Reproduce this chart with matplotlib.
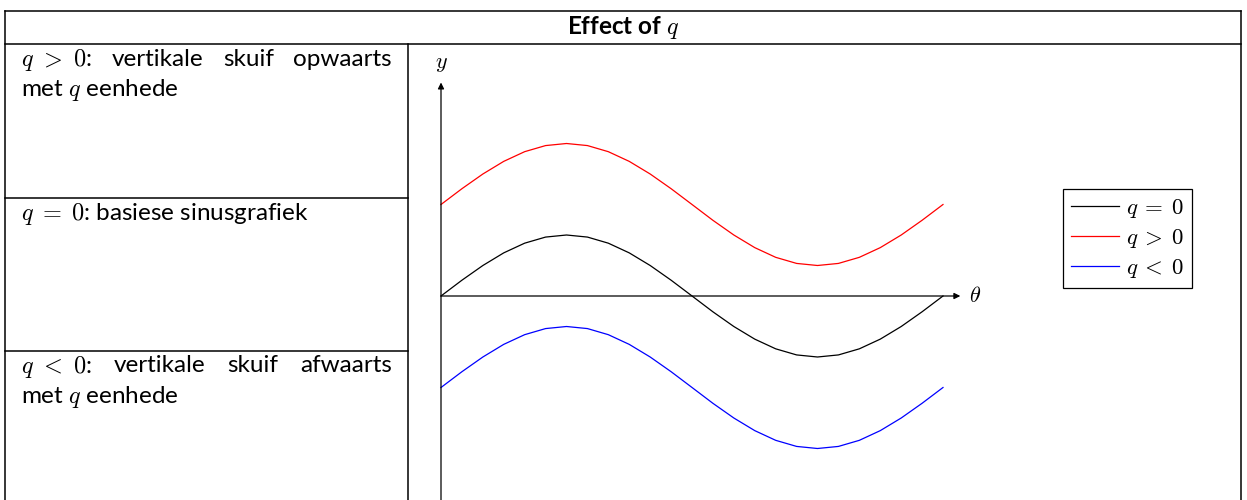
import matplotlib
matplotlib.use("Agg")
import matplotlib.pyplot as plt
from matplotlib.lines import Line2D

plt.rcParams['mathtext.fontset'] = 'cm'
plt.rcParams['font.family'] = ['Lato', 'DejaVu Sans']

# ---- data ----
title = r"Effect of $q$"
cell_texts = [
    [r"$q\ >\ 0$:", "vertikale", "skuif", "opwaarts"],
    [r"$q\;=\;0$: basiese sinusgrafiek"],
    [r"$q\ <\ 0$:", "vertikale", "skuif", "afwaarts"],
]
cell_second_lines = [r"met $q$ eenhede", None, r"met $q$ eenhede"]
theta = [0.000, 0.262, 0.524, 0.785, 1.047, 1.309, 1.571, 1.833, 2.094,
         2.356, 2.618, 2.880, 3.142, 3.403, 3.665, 3.927, 4.189, 4.451,
         4.712, 4.974, 5.236, 5.498, 5.760, 6.021, 6.283]
y_zero = [0.000, 0.259, 0.500, 0.707, 0.866, 0.966, 1.000, 0.966, 0.866,
          0.707, 0.500, 0.259, 0.000, -0.259, -0.500, -0.707, -0.866, -0.966,
          -1.000, -0.966, -0.866, -0.707, -0.500, -0.259, 0.000]
y_pos = [1.500, 1.759, 2.000, 2.207, 2.366, 2.466, 2.500, 2.466, 2.366,
         2.207, 2.000, 1.759, 1.500, 1.241, 1.000, 0.793, 0.634, 0.534,
         0.500, 0.534, 0.634, 0.793, 1.000, 1.241, 1.500]
y_neg = [-1.500, -1.241, -1.000, -0.793, -0.634, -0.534, -0.500, -0.534, -0.634,
         -0.793, -1.000, -1.241, -1.500, -1.759, -2.000, -2.207, -2.366, -2.466,
         -2.500, -2.466, -2.366, -2.207, -2.000, -1.759, -1.500]
series_labels = [r"$q\:=\:0$", r"$q\:>\:0$", r"$q\:<\:0$"]
series_colors = ["black", "red", "blue"]

W, H = 1247, 500
fig = plt.figure(figsize=(W / 100, H / 100), dpi=100)

# background axes in pixel coords for the table
bg = fig.add_axes([0, 0, 1, 1])
bg.set_xlim(0, W)
bg.set_ylim(H, 0)
bg.axis('off')

L, R, T, TB, COL = 5, 1241, 11, 44, 407.5
ROW1, ROW2 = 198, 350.5
lw = 1.1
bg.plot([L, R], [T, T], color='black', lw=lw)
bg.plot([L, R], [TB, TB], color='black', lw=lw)
bg.plot([L, L], [T, H + 5], color='black', lw=lw)
bg.plot([R, R], [T, H + 5], color='black', lw=lw)
bg.plot([COL, COL], [TB, H + 5], color='black', lw=lw)
bg.plot([L, COL], [ROW1, ROW1], color='black', lw=lw)
bg.plot([L, COL], [ROW2, ROW2], color='black', lw=lw)

bg.text((L + R) / 2, 27.5, title, ha='center', va='center', fontsize=17.5,
        fontweight='bold')

fs = 17.5
fig.canvas.draw()
renderer = fig.canvas.get_renderer()


def justified_line(words, x0, x1, y):
    texts = [bg.text(0, y, w, ha='left', va='baseline', fontsize=fs) for w in words]
    if len(words) == 1:
        texts[0].set_x(x0)
        return
    widths = []
    for t in texts:
        bb = t.get_window_extent(renderer=renderer)
        widths.append(bb.width)
    gap = (x1 - x0 - sum(widths)) / (len(words) - 1)
    x = x0
    for t, w in zip(texts, widths):
        t.set_x(x)
        x += w + gap


row_tops = [TB, ROW1, ROW2]
for top, words, second in zip(row_tops, cell_texts, cell_second_lines):
    justified_line(words, 21, 392, top + 22)
    if second:
        bg.text(21, top + 52, second, ha='left', va='baseline', fontsize=fs)

# plot axes: map data coords to pixels
x0px, y0px = 441, 296
sx, sy = 502 / 6.283, 61.0
ax_l, ax_r, ax_t, ax_b = 415, 1005, 45, 500
ax = fig.add_axes([ax_l / W, 1 - ax_b / H, (ax_r - ax_l) / W, (ax_b - ax_t) / H])
ax.set_xlim((ax_l - x0px) / sx, (ax_r - x0px) / sx)
ax.set_ylim((y0px - ax_b) / sy, (y0px - ax_t) / sy)
ax.axis('off')
ax.patch.set_alpha(0)

for ys, c in zip([y_zero, y_pos, y_neg], series_colors):
    ax.plot(theta, ys, color=c, lw=0.9, clip_on=False)

arrow = dict(arrowstyle='-|>', color='black', lw=0.9, mutation_scale=9,
             shrinkA=0, shrinkB=0)
ax.annotate('', xy=(6.5, 0), xytext=(0, 0), arrowprops=arrow)
ax.annotate('', xy=(0, 3.5), xytext=(0, -3.6), arrowprops=arrow,
            annotation_clip=False)
ax.text(6.5 + 9 / sx, 0, r"$\theta$", ha='left', va='center', fontsize=16)
ax.text(0, 3.5 + 19 / sy, r"$y$", ha='center', va='center', fontsize=16)

handles = [Line2D([0], [0], color=c, lw=0.9) for c in series_colors]
leg = fig.legend(handles, series_labels, loc='upper left',
                 bbox_to_anchor=(1063 / W, 1 - 189 / H), fontsize=16.5,
                 frameon=True, fancybox=False, edgecolor='black', framealpha=1,
                 handlelength=2.1, handletextpad=0.3, borderpad=0.35,
                 labelspacing=0.3, borderaxespad=0)
leg.get_frame().set_linewidth(0.9)

fig.savefig("out.png", dpi=100)
